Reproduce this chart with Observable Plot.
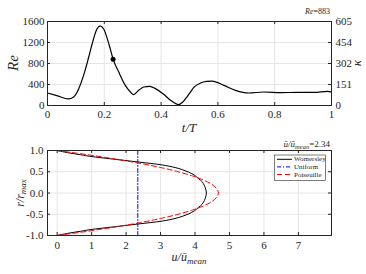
<!DOCTYPE html>
<html><head><meta charset="utf-8">
<script src="https://cdn.jsdelivr.net/npm/d3@7"></script>
<script src="https://cdn.jsdelivr.net/npm/@observablehq/plot@0.6"></script>
<style>
body{margin:0;background:#fff;}
#chart{position:relative;width:366px;height:274px;overflow:hidden;background:#fff;}
#chart svg{display:block;}
</style></head><body><div id="chart"></div>
<script>
// ---- top panel data ----
const tT = [0,0.033,0.074,0.092,0.110,0.127,0.145,0.162,0.174,0.185,0.198,0.209,0.221,0.231,0.251,0.274,0.292,0.303,0.321,0.339,0.360,0.380,0.409,0.433,0.462,0.477,0.492,0.504,0.515,0.539,0.560,0.580,0.621,0.662,0.709,0.762,0.821,0.880,0.939,0.986,1.0];
const reVals = [239,189,125,163,321,573,919,1267,1456,1518,1456,1297,1078,883,636,384,257,208,289,352,365,321,214,100,18,70,170,260,345,428,458,465,384,289,238,257,245,250,250,270,255];
const tTicks = [0,0.2,0.4,0.6,0.8,1];
const tTickLabels = ["0","0.2","0.4","0.6","0.8","1"];
const reTicks = [0,400,800,1200,1600];
const reTickLabels = ["0","400","800","1200","1600"];
const kappaTickLabels = ["0","151","302","454","605"];
const markerT = [0.231];
const markerRe = [883];

// ---- bottom panel data ----
const rWom = [-1,-0.95,-0.9,-0.86,-0.8,-0.73,-0.66,-0.6,-0.55,-0.49,-0.42,-0.34,-0.27,-0.18,-0.09,0,0.09,0.18,0.27,0.34,0.42,0.49,0.55,0.6,0.66,0.73,0.8,0.86,0.9,0.95,1];
const uWom = [0,0.3,0.68,0.98,1.6,2.34,3.05,3.42,3.63,3.82,3.98,4.1,4.2,4.27,4.31,4.33,4.31,4.27,4.2,4.1,3.98,3.82,3.63,3.42,3.05,2.34,1.6,0.98,0.68,0.3,0];
const rPois = [-1,-0.9,-0.8,-0.7,-0.6,-0.5,-0.4,-0.3,-0.2,-0.1,0,0.1,0.2,0.3,0.4,0.5,0.6,0.7,0.8,0.9,1];
const uPois = [0,0.89,1.68,2.39,3.0,3.51,3.93,4.26,4.49,4.63,4.68,4.63,4.49,4.26,3.93,3.51,3.0,2.39,1.68,0.89,0];
const rUni = [-1,1];
const uUni = [2.34,2.34];
const uTicks = [0,1,2,3,4,5,6,7];
const rTicks = [-1,-0.5,0,0.5,1];
const rTickLabels = ["-1.0","-0.5","0.0","0.5","1.0"];
const legendNames = ["Womersley","Uniform","Poiseuille"];
const legendColors = ["#000000","#0000ff","#ff0000"];
const legendDash = ["none","4,2,1,2","5,3"];

const W = 366, H = 137;
const ink = "#262626", gridC = "#e6e6e6";
const FONT = "'Liberation Serif', 'Times New Roman', serif";
const chart = document.getElementById("chart");

// ---------- top panel ----------
const tm = {t:21, b:32, l:47, r:35};
const tfh = H - tm.t - tm.b, tfw = W - tm.l - tm.r;
const reData = tT.map((t,i)=>({t, re: reVals[i]}));
const markData = markerT.map((t,i)=>({t, re: markerRe[i]}));
const topPlot = Plot.plot({
  width: W, height: H,
  marginTop: tm.t, marginBottom: tm.b, marginLeft: tm.l, marginRight: tm.r,
  style: {fontFamily: FONT, fontSize: "11px", color: ink, background: "transparent"},
  x: {domain: [0,1]},
  y: {domain: [0,1600]},
  marks: [
    Plot.gridX({ticks: tTicks.slice(1,-1), stroke: gridC, strokeOpacity: 1}),
    Plot.gridY({ticks: reTicks.slice(1,-1), stroke: gridC, strokeOpacity: 1}),
    Plot.axisX({ticks: tTicks, tickSize: 0, tickPadding: 5, label: null, fontSize: 11,
      tickFormat: d => tTickLabels[tTicks.indexOf(d)]}),
    Plot.axisY({ticks: reTicks, tickSize: 0, tickPadding: 3, label: null, fontSize: 11,
      tickFormat: d => reTickLabels[reTicks.indexOf(d)]}),
    Plot.axisY({anchor: "right", ticks: reTicks, tickSize: 0, tickPadding: 4, label: null, fontSize: 11,
      tickFormat: d => kappaTickLabels[reTicks.indexOf(d)]}),
    Plot.tickX(tTicks, {x: d => d, insetTop: tfh - 3, stroke: ink}),
    Plot.tickX(tTicks, {x: d => d, insetBottom: tfh - 3, stroke: ink}),
    Plot.tickY(reTicks, {y: d => d, insetRight: tfw - 3, stroke: ink}),
    Plot.tickY(reTicks, {y: d => d, insetLeft: tfw - 3, stroke: ink}),
    Plot.line(reData, {x: "t", y: "re", curve: "monotone-x", stroke: "#000", strokeWidth: 1.2}),
    Plot.dot(markData, {x: "t", y: "re", r: 2.5, fill: "#000", stroke: "none"}),
    Plot.frame({stroke: ink})
  ]
});
chart.appendChild(topPlot);
{
  const s = d3.select(topPlot).append("g").attr("font-family", FONT).attr("fill", ink);
  s.append("text").attr("transform","translate(13,63) rotate(-90)").attr("text-anchor","middle")
    .attr("dominant-baseline","central").attr("font-style","italic").attr("font-size",15).text("Re");
  s.append("text").attr("transform","translate(356,63) rotate(-90)").attr("text-anchor","middle")
    .attr("dominant-baseline","central").attr("font-style","italic").attr("font-size",13).text("κ");
  s.append("text").attr("x",189).attr("y",132).attr("text-anchor","middle").attr("font-size",13).attr("font-style","italic").text("t/T");
  const an = s.append("text").attr("x",330).attr("y",14).attr("text-anchor","end").attr("font-size",8);
  an.append("tspan").attr("font-style","italic").text("Re");
  an.append("tspan").text("=883");
}

// ---------- bottom panel ----------
const bm = {t:13, b:39, l:47, r:35};
const bfh = H - bm.t - bm.b, bfw = W - bm.l - bm.r;
const womData = rWom.map((r,i)=>({r, u: uWom[i]}));
const poisData = rPois.map((r,i)=>({r, u: uPois[i]}));
const uniData = rUni.map((r,i)=>({r, u: uUni[i]}));
const botPlot = Plot.plot({
  width: W, height: H,
  marginTop: bm.t, marginBottom: bm.b, marginLeft: bm.l, marginRight: bm.r,
  style: {fontFamily: FONT, fontSize: "11px", color: ink, background: "transparent"},
  x: {domain: [-0.28, 7.96]},
  y: {domain: [-1, 1]},
  marks: [
    Plot.gridX({ticks: uTicks, stroke: gridC, strokeOpacity: 1}),
    Plot.gridY({ticks: rTicks.slice(1,-1), stroke: gridC, strokeOpacity: 1}),
    Plot.axisX({ticks: uTicks, tickSize: 0, tickPadding: 6, label: null, fontSize: 11}),
    Plot.axisY({ticks: rTicks, tickSize: 0, tickPadding: 4, label: null, fontSize: 11,
      tickFormat: d => rTickLabels[rTicks.indexOf(d)]}),
    Plot.tickX(uTicks, {x: d => d, insetTop: bfh - 3, stroke: ink}),
    Plot.tickX(uTicks, {x: d => d, insetBottom: bfh - 3, stroke: ink}),
    Plot.tickY(rTicks, {y: d => d, insetRight: bfw - 3, stroke: ink}),
    Plot.tickY(rTicks, {y: d => d, insetLeft: bfw - 3, stroke: ink}),
    Plot.line(womData, {x: "u", y: "r", curve: "catmull-rom", stroke: legendColors[0], strokeWidth: 1}),
    Plot.line(uniData, {x: "u", y: "r", stroke: legendColors[1], strokeWidth: 1, strokeDasharray: legendDash[1]}),
    Plot.line(poisData, {x: "u", y: "r", curve: "catmull-rom", stroke: legendColors[2], strokeWidth: 1, strokeDasharray: legendDash[2]}),
    Plot.frame({stroke: ink})
  ]
});
botPlot.style.position = "absolute";
botPlot.style.left = "0px";
botPlot.style.top = "137px";
chart.appendChild(botPlot);
{
  const s = d3.select(botPlot).append("g").attr("font-family", FONT).attr("fill", ink);
  const ti = s.append("text").attr("x",330).attr("y",10).attr("text-anchor","end").attr("font-size",9);
  ti.append("tspan").attr("font-style","italic").text("ū/ū");
  ti.append("tspan").attr("font-style","italic").attr("font-size",6.5).attr("dy",2).text("mean");
  ti.append("tspan").attr("dy",-2).text("=2.34");
  const xl = s.append("text").attr("x",189).attr("y",124).attr("text-anchor","middle").attr("font-size",12).attr("font-style","italic");
  xl.append("tspan").text("u/ū");
  xl.append("tspan").attr("font-size",9).attr("dy",3).text("mean");
  const yl = s.append("text").attr("transform","translate(20,56) rotate(-90)").attr("text-anchor","middle")
    .attr("dominant-baseline","central").attr("font-size",12).attr("font-style","italic");
  yl.append("tspan").text("r/r");
  yl.append("tspan").attr("font-size",9).attr("dy",3).text("max");
  const lg = s.append("g").attr("text-anchor","start");
  lg.append("rect").attr("x",274.5).attr("y",18).attr("width",51).attr("height",25.5)
    .attr("fill","#fff").attr("stroke",ink).attr("stroke-width",0.6);
  legendNames.forEach((name,i)=>{
    const yy = 22.3 + i*7.6;
    lg.append("line").attr("x1",277).attr("x2",292).attr("y1",yy).attr("y2",yy)
      .attr("stroke",legendColors[i]).attr("stroke-width",1)
      .attr("stroke-dasharray", legendDash[i] === "none" ? null : legendDash[i]);
    lg.append("text").attr("x",294).attr("y",yy).attr("text-anchor","start").attr("dominant-baseline","central")
      .attr("font-size",7).text(name);
  });
}
</script></body></html>
